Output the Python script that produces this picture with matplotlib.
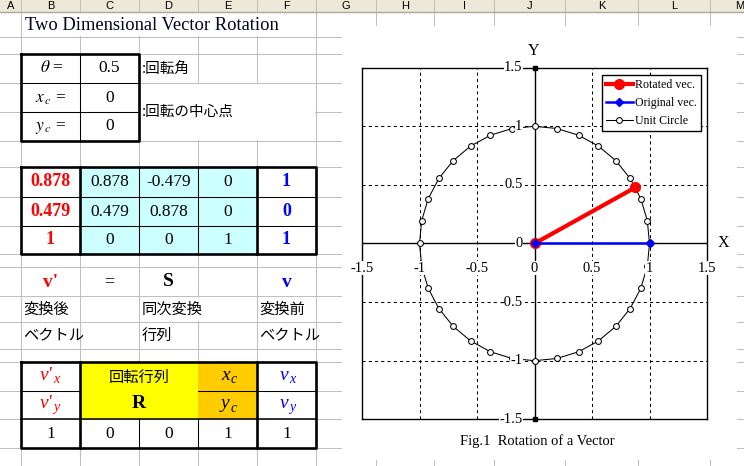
import matplotlib
matplotlib.use('Agg')
import matplotlib.pyplot as plt
from matplotlib.patches import Rectangle
import matplotlib.transforms as mtransforms

plt.rcParams['mathtext.fontset'] = 'stix'
plt.rcParams['font.family'] = ['Liberation Serif', 'DejaVu Sans']

# ------------------------------------------------------------------ data
theta_value = '0.5'
center_values = ['0', '0']
matrix_S = [['0.878', '-0.479', '0'],
            ['0.479', '0.878', '0'],
            ['0', '0', '1']]
v_prime = ['0.878', '0.479', '1']
v_orig = ['1', '0', '1']
bottom_row = ['1', '0', '0', '1', '1']

rotated_x = [0, 0.878]
rotated_y = [0, 0.479]
original_x = [0, 1]
original_y = [0, 0]
circle_x = [1.000, 0.981, 0.924, 0.831, 0.707, 0.556, 0.383, 0.195, 0.000,
            -0.195, -0.383, -0.556, -0.707, -0.831, -0.924, -0.981, -1.000,
            -0.981, -0.924, -0.831, -0.707, -0.556, -0.383, -0.195, 0.000,
            0.195, 0.383, 0.556, 0.707, 0.831, 0.924, 0.981, 1.000]
circle_y = [0.000, 0.195, 0.383, 0.556, 0.707, 0.831, 0.924, 0.981, 1.000,
            0.981, 0.924, 0.831, 0.707, 0.556, 0.383, 0.195, 0.000,
            -0.195, -0.383, -0.556, -0.707, -0.831, -0.924, -0.981, -1.000,
            -0.981, -0.924, -0.831, -0.707, -0.556, -0.383, -0.195, 0.000]
yaxis_x = [0, 0]
yaxis_y = [-1.5, 1.5]
tick_values = [-1.5, -1, -0.5, 0, 0.5, 1, 1.5]
tick_labels = ['-1.5', '-1', '-0.5', '0', '0.5', '1', '1.5']
grid_values = [-1, -0.5, 0.5, 1]
col_letters = ['A', 'B', 'C', 'D', 'E', 'F', 'G', 'H', 'I', 'J', 'K', 'L', 'M']

# ------------------------------------------------------------------ layout
W, H = 744, 466
col_edges = [0, 21, 80, 139, 198, 257, 316, 376, 434, 494, 565, 638, 710, 770]
row_edges = [12, 37, 54, 83, 112, 141, 167, 197, 226, 254, 267, 296, 322, 349,
             362, 391, 419, 448, 477]
JP = ['Noto Sans CJK JP', 'DejaVu Sans']
SERIF = ['Liberation Serif', 'DejaVu Sans']
GRID = '#C0C0C0'
THIN = 0.75
THICK = 1.9

fig = plt.figure(figsize=(W / 100, H / 100), dpi=100)
bg = fig.add_axes([0, 0, 1, 1])
bg.set_xlim(0, W)
bg.set_ylim(H, 0)
bg.axis('off')


def cx(c):
    return (col_edges[c] + col_edges[c + 1]) / 2


def ry(r):
    return (row_edges[r] + row_edges[r + 1]) / 2


def rect(x0, y0, x1, y1, fc, z=1):
    bg.add_patch(Rectangle((x0, y0), x1 - x0, y1 - y0, facecolor=fc,
                           edgecolor='none', zorder=z))


def line(xs, ys, lw=THIN, color='black', z=4):
    bg.plot(xs, ys, color=color, lw=lw, solid_capstyle='projecting', zorder=z)


def sub_label(x, y, main, sub, color):
    """italic serif symbol with a lowered subscript, centred at x"""
    bg.text(x + 2, y - 1, main, ha='right', va='center', fontsize=14,
            fontstyle='italic', family=SERIF, color=color, zorder=5)
    bg.text(x + 3, y + 3, sub, ha='left', va='center', fontsize=10,
            fontstyle='italic', family=SERIF, color=color, zorder=5)


# spreadsheet grid
for x in col_edges[1:-1]:
    line([x, x], [12, H], color=GRID, z=1)
for y in row_edges[1:-1]:
    line([0, W], [y, y], color=GRID, z=1)
# overflow / merged regions hide gridlines
rect(21.6, 12.6, 315.4, 36.4, 'white', z=1.5)
rect(139.6, 83.6, 315.4, 140.4, 'white', z=1.5)
rect(196.5, 296.6, 199.5, 321.4, 'white', z=1.5)

# column header
rect(0, 0, W, 12, '#ECE9D8', z=2)
line([0, W], [12, 12], color='#ACA899', lw=1, z=2.1)
for x in col_edges[1:-1]:
    line([x, x], [0, 11], color='#C5C2B2', lw=0.75, z=2.1)
for i, letter in enumerate(col_letters):
    bg.text(cx(i), 5.6, letter, ha='center', va='center', fontsize=8,
            family=['Liberation Sans', 'DejaVu Sans'], zorder=3)

# title
bg.text(25, ry(0) + 0.5, 'Two Dimensional Vector Rotation', ha='left', va='center',
        fontsize=13.3, family=SERIF, color='#000020', zorder=5)

# ---------------- table 1
line([21, 139, 139, 21, 21], [54, 54, 141, 141, 54], lw=THICK)
line([80, 80], [54, 141])
line([21, 139], [83, 83])
line([21, 139], [112, 112])
bg.text(cx(1) + 1, ry(2), r'$\theta$ =', ha='center', va='center', fontsize=12.5, zorder=5)
bg.text(cx(1), ry(3) + 1, r'$x_{\,c}$ =', ha='center', va='center', fontsize=12.5, zorder=5)
bg.text(cx(1), ry(4) + 1, r'$y_{\,c}$ =', ha='center', va='center', fontsize=12.5, zorder=5)
bg.text(cx(2), ry(2), theta_value, ha='center', va='center', fontsize=12.5, family=SERIF, zorder=5)
bg.text(cx(2), ry(3), center_values[0], ha='center', va='center', fontsize=12.5, family=SERIF, zorder=5)
bg.text(cx(2), ry(4), center_values[1], ha='center', va='center', fontsize=12.5, family=SERIF, zorder=5)
bg.text(142, ry(2), ':回転角', ha='left', va='center', fontsize=10.5, family=JP, zorder=5)
bg.text(142, 112, ':回転の中心点', ha='left', va='center', fontsize=10.5, family=JP, zorder=5)

# ---------------- table 2
rect(80, 167, 257, 254, '#CCFFFF', z=2)
for y in (197, 226):
    line([21, 316], [y, y])
for x in (139, 198):
    line([x, x], [167, 254])
for x in (80, 257):
    line([x, x], [167, 254], lw=THICK)
line([21, 316, 316, 21, 21], [167, 167, 254, 254, 167], lw=THICK)
for r in range(3):
    bg.text(cx(1), ry(6 + r), v_prime[r], ha='center', va='center', fontsize=13,
            fontweight='bold', color='#FF0000', family=SERIF, zorder=5)
    for c in range(3):
        bg.text(cx(2 + c), ry(6 + r), matrix_S[r][c], ha='center', va='center',
                fontsize=12.5, family=SERIF, zorder=5)
    bg.text(cx(5), ry(6 + r), v_orig[r], ha='center', va='center', fontsize=13,
            fontweight='bold', color='#0000FF', family=SERIF, zorder=5)

# row v' = S v
bg.text(cx(1), ry(10) + 1, "v'", ha='center', va='center', fontsize=14,
        fontweight='bold', color='#FF0000', family=SERIF, zorder=5)
bg.text(cx(2), ry(10), '=', ha='center', va='center', fontsize=13, family=SERIF, zorder=5)
bg.text(cx(3), ry(10), 'S', ha='center', va='center', fontsize=14,
        fontweight='bold', family=SERIF, zorder=5)
bg.text(cx(5), ry(10) + 1, 'v', ha='center', va='center', fontsize=14,
        fontweight='bold', color='#0000FF', family=SERIF, zorder=5)
for x, t in ((23, '変換後'), (142, '同次変換'), (259, '変換前')):
    bg.text(x, ry(11), t, ha='left', va='center', fontsize=11, family=JP, zorder=5)
for x, t in ((23, 'ベクトル'), (142, '行列'), (259, 'ベクトル')):
    bg.text(x, ry(12), t, ha='left', va='center', fontsize=11, family=JP, zorder=5)

# ---------------- table 3
rect(80, 362, 198, 419, '#FFFF00', z=2)
rect(198, 362, 257, 419, '#FFCC00', z=2)
line([21, 80], [391, 391])
line([198, 316], [391, 391])
line([21, 316], [419, 419], lw=1.1)
for x in (139, 198):
    line([x, x], [419, 448])
for x in (80, 257):
    line([x, x], [362, 448], lw=THICK)
line([21, 316, 316, 21, 21], [362, 362, 448, 448, 362], lw=THICK)
sub_label(cx(1), ry(14), "v'", 'x', '#FF0000')
sub_label(cx(1), ry(15), "v'", 'y', '#FF0000')
bg.text(139, ry(14) + 1, '回転行列', ha='center', va='center', fontsize=11, family=JP, zorder=5)
bg.text(139, ry(15) - 1, 'R', ha='center', va='center', fontsize=14, fontweight='bold', family=SERIF, zorder=5)
sub_label(cx(4), ry(14), 'x', 'c', 'black')
sub_label(cx(4), ry(15), 'y', 'c', 'black')
sub_label(cx(5), ry(14), 'v', 'x', '#0000FF')
sub_label(cx(5), ry(15), 'v', 'y', '#0000FF')
for c, t in enumerate(bottom_row):
    bg.text(cx(1 + c), ry(16), t, ha='center', va='center', fontsize=12.5, family=SERIF, zorder=5)

# ---------------- chart area
rect(342, 26, 737, 460, 'white', z=6)

L, R, T, B = 362, 707, 67.7, 419.3
ax = fig.add_axes([L / W, 1 - B / H, (R - L) / W, (B - T) / H], zorder=10)
ax.set_xlim(-1.5, 1.5)
ax.set_ylim(-1.5, 1.5)
ax.set_facecolor('none')
for s in ax.spines.values():
    s.set_color('black')
    s.set_linewidth(1.0)
ax.set_xticks(grid_values)
ax.set_yticks(grid_values)
ax.tick_params(length=0, labelbottom=False, labelleft=False)
ax.grid(True, color='black', linestyle=(0, (3, 3)), linewidth=0.75)
ax.axhline(0, color='black', lw=1.0, zorder=2)
ax.plot(yaxis_x, yaxis_y, color='black', lw=1.0, marker='s', ms=3.2,
        clip_on=False, zorder=2)

h_circ, = ax.plot(circle_x, circle_y, color='black', lw=0.75, marker='o', ms=4.2,
                  mfc='white', mec='black', mew=0.75, zorder=3, label='Unit Circle')
h_rot, = ax.plot(rotated_x, rotated_y, color='#FF0000', lw=3.0, marker='o', ms=7,
                 zorder=4, label='Rotated vec.')
h_orig, = ax.plot(original_x, original_y, color='#0000FF', lw=1.8, marker='D', ms=4.5,
                  zorder=5, label='Original vec.')

xoff = mtransforms.offset_copy(ax.transData, fig=fig, x=0, y=-24.5, units='dots')
yoff = mtransforms.offset_copy(ax.transData, fig=fig, x=-12, y=0, units='dots')
for v, t in zip(tick_values, tick_labels):
    ax.text(v, 0, t, transform=xoff, ha='center', va='center', fontsize=10.5,
            family=SERIF, zorder=6, clip_on=False,
            bbox=dict(facecolor='white', edgecolor='none', pad=0.3))
    ax.text(0, v, t, transform=yoff, ha='right', va='center', fontsize=10.5,
            family=SERIF, zorder=6, clip_on=False,
            bbox=dict(facecolor='white', edgecolor='none', pad=0.3))

leg = ax.legend(handles=[h_rot, h_orig, h_circ], loc='upper right',
                bbox_to_anchor=((701 - L) / (R - L), (B - 75) / (B - T)),
                borderaxespad=0, prop={'family': SERIF, 'size': 8.6},
                frameon=True, fancybox=False, framealpha=1, edgecolor='black',
                handlelength=2.2, handletextpad=0.2, labelspacing=0.5,
                borderpad=0.35, numpoints=1)
leg.get_frame().set_linewidth(1.0)
leg.set_zorder(20)

fig.text(723 / W, 1 - 243 / H, 'X', ha='center', va='center', fontsize=11.5,
         family=SERIF, zorder=20)
fig.text(534 / W, 1 - 51 / H, 'Y', ha='center', va='center', fontsize=11.5,
         family=SERIF, zorder=20)
fig.text(537 / W, 1 - 441 / H, 'Fig.1  Rotation of a Vector', ha='center',
         va='center', fontsize=10.5, family=SERIF, zorder=20)

fig.savefig('out.png', dpi=100)
